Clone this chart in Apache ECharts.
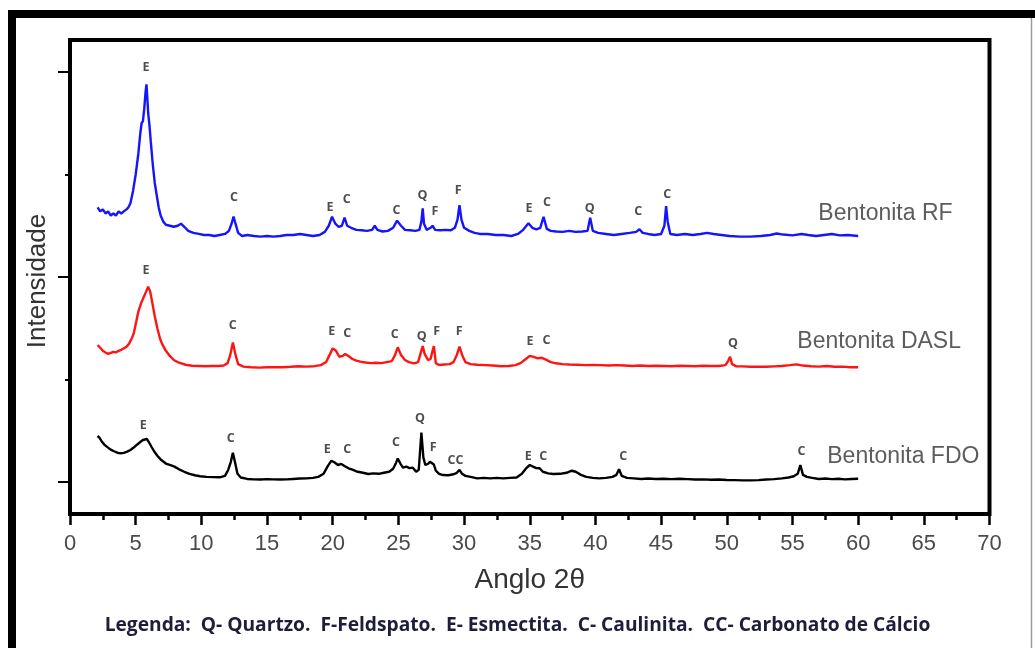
<!DOCTYPE html>
<html><head><meta charset="utf-8">
<script src="https://cdn.jsdelivr.net/npm/echarts@6/dist/echarts.min.js"></script>
<style>html,body{margin:0;padding:0;background:#fff}#c{width:1035px;height:648px}</style>
</head><body><div id="c"></div>
<script>
// X tick labels (2θ) and y tick positions (arbitrary intensity units)
const xTicks = [0, 70, 5];
const yMajorTicks = [0, 1, 2];
const yMinorTicks = [0.5, 1.5];

// Bentonita RF (blue) — [2θ, intensity]
const rfData = [
[2.1,1.34],[2.3,1.32],[2.5,1.33],[2.7,1.31],[2.9,1.32],[3.1,1.30],[3.3,1.31],[3.5,1.30],[3.7,1.32],[3.9,1.31],
[4.1,1.32],[4.3,1.33],[4.45,1.34],[4.6,1.36],[4.8,1.42],[5.0,1.50],[5.2,1.60],[5.35,1.70],[5.45,1.75],[5.55,1.76],
[5.65,1.82],[5.75,1.90],[5.82,1.94],[5.88,1.88],[5.95,1.80],[6.05,1.74],[6.15,1.66],[6.3,1.55],[6.45,1.46],[6.6,1.40],
[6.75,1.34],[6.9,1.30],[7.1,1.27],[7.3,1.255],[7.6,1.25],[7.9,1.245],[8.2,1.25],[8.45,1.26],[8.7,1.245],[9.0,1.225],
[9.4,1.215],[9.8,1.21],[10.2,1.205],[10.6,1.205],[11.0,1.20],[11.4,1.205],[11.8,1.21],[12.1,1.225],[12.3,1.26],[12.45,1.295],
[12.6,1.26],[12.8,1.215],[13.1,1.20],[13.5,1.205],[14.0,1.20],[14.5,1.197],[15.0,1.20],[15.5,1.197],[16.0,1.20],[16.5,1.205],
[17.0,1.205],[17.5,1.21],[18.0,1.205],[18.5,1.20],[19.0,1.205],[19.4,1.22],[19.7,1.25],[19.95,1.294],[20.2,1.26],[20.45,1.245],
[20.7,1.25],[20.9,1.29],[21.1,1.25],[21.4,1.24],[21.8,1.23],[22.2,1.228],[22.6,1.225],[23.0,1.23],[23.2,1.25],[23.4,1.23],
[23.8,1.222],[24.2,1.225],[24.6,1.24],[24.9,1.275],[25.2,1.25],[25.5,1.23],[25.9,1.228],[26.3,1.225],[26.6,1.23],[26.75,1.27],
[26.85,1.335],[26.95,1.26],[27.15,1.23],[27.45,1.24],[27.6,1.25],[27.8,1.23],[28.2,1.228],[28.6,1.23],[29.0,1.228],[29.3,1.24],
[29.5,1.28],[29.65,1.35],[29.8,1.28],[30.0,1.24],[30.4,1.225],[30.8,1.215],[31.2,1.21],[31.8,1.21],[32.4,1.205],[33.0,1.205],
[33.6,1.20],[34.1,1.21],[34.5,1.23],[34.9,1.262],[35.2,1.24],[35.5,1.232],[35.8,1.24],[36.05,1.294],[36.3,1.235],[36.6,1.225],
[37.0,1.222],[37.5,1.22],[38.0,1.225],[38.5,1.22],[39.0,1.222],[39.4,1.225],[39.6,1.289],[39.8,1.225],[40.2,1.215],[40.8,1.21],
[41.4,1.205],[42.0,1.21],[42.6,1.215],[43.1,1.22],[43.35,1.233],[43.6,1.215],[44.0,1.21],[44.5,1.205],[45.0,1.21],[45.25,1.25],
[45.38,1.346],[45.5,1.27],[45.7,1.21],[46.2,1.205],[46.8,1.21],[47.4,1.205],[48.0,1.21],[48.5,1.215],[49.0,1.21],[49.6,1.205],
[50.2,1.20],[51.0,1.197],[51.8,1.197],[52.6,1.20],[53.3,1.205],[53.8,1.212],[54.3,1.207],[55.0,1.203],[55.7,1.21],[56.2,1.205],
[56.8,1.20],[57.4,1.205],[58.0,1.21],[58.6,1.203],[59.2,1.205],[60.0,1.20]
];

// Bentonita DASL (red)
const daslData = [
[2.1,0.668],[2.3,0.655],[2.5,0.64],[2.7,0.632],[2.9,0.625],[3.1,0.63],[3.3,0.635],[3.5,0.632],[3.7,0.64],[3.9,0.645],
[4.1,0.652],[4.3,0.66],[4.5,0.675],[4.7,0.70],[4.85,0.725],[5.0,0.77],[5.2,0.83],[5.4,0.87],[5.6,0.90],[5.8,0.93],
[5.95,0.953],[6.1,0.93],[6.25,0.88],[6.45,0.81],[6.65,0.75],[6.85,0.70],[7.0,0.675],[7.3,0.64],[7.6,0.615],[7.9,0.595],
[8.3,0.582],[8.8,0.572],[9.3,0.567],[9.8,0.566],[10.3,0.565],[10.8,0.566],[11.3,0.566],[11.7,0.568],[12.0,0.58],[12.2,0.62],
[12.4,0.68],[12.6,0.62],[12.8,0.575],[13.2,0.563],[13.8,0.56],[14.4,0.558],[15.0,0.56],[15.6,0.56],[16.2,0.56],[16.8,0.562],
[17.4,0.565],[18.0,0.563],[18.6,0.565],[19.1,0.57],[19.5,0.585],[19.8,0.625],[20.0,0.652],[20.25,0.64],[20.5,0.611],[20.75,0.615],
[20.95,0.624],[21.2,0.615],[21.5,0.60],[21.8,0.592],[22.1,0.587],[22.5,0.583],[22.9,0.58],[23.3,0.582],[23.7,0.58],[24.1,0.585],
[24.5,0.59],[24.75,0.62],[24.95,0.657],[25.2,0.62],[25.5,0.595],[25.8,0.585],[26.2,0.579],[26.5,0.585],[26.7,0.63],[26.85,0.663],
[27.0,0.625],[27.25,0.595],[27.45,0.60],[27.6,0.64],[27.7,0.663],[27.85,0.58],[28.1,0.571],[28.5,0.573],[28.9,0.575],[29.2,0.585],
[29.45,0.62],[29.65,0.66],[29.85,0.62],[30.1,0.585],[30.5,0.575],[31.0,0.572],[31.6,0.57],[32.2,0.568],[32.8,0.565],[33.4,0.566],
[33.9,0.57],[34.3,0.58],[34.7,0.60],[35.0,0.615],[35.3,0.61],[35.6,0.603],[35.9,0.606],[36.2,0.598],[36.6,0.585],[37.0,0.579],
[37.5,0.575],[38.0,0.573],[38.6,0.572],[39.2,0.57],[39.8,0.571],[40.4,0.57],[41.0,0.568],[41.6,0.57],[42.2,0.568],[42.8,0.566],
[43.4,0.568],[44.0,0.566],[44.6,0.567],[45.2,0.566],[45.8,0.565],[46.4,0.567],[47.0,0.566],[47.6,0.565],[48.2,0.567],[48.8,0.566],
[49.4,0.566],[49.9,0.57],[50.1,0.59],[50.25,0.611],[50.4,0.575],[50.7,0.565],[51.2,0.564],[51.8,0.562],[52.4,0.563],[53.0,0.562],
[53.6,0.564],[54.2,0.566],[54.8,0.57],[55.3,0.574],[55.8,0.568],[56.4,0.565],[57.0,0.563],[57.6,0.566],[58.2,0.562],[58.8,0.563],
[59.4,0.56],[60.0,0.56]
];

// Bentonita FDO (black)
const fdoData = [
[2.1,0.225],[2.25,0.215],[2.45,0.195],[2.65,0.18],[2.85,0.17],[3.1,0.158],[3.35,0.15],[3.6,0.143],[3.85,0.14],[4.1,0.142],
[4.35,0.148],[4.6,0.156],[4.85,0.168],[5.1,0.182],[5.35,0.195],[5.55,0.205],[5.7,0.213],[5.85,0.21],[6.0,0.195],[6.2,0.172],
[6.4,0.15],[6.65,0.128],[6.95,0.107],[7.3,0.09],[7.65,0.082],[7.95,0.075],[8.3,0.062],[8.7,0.05],[9.1,0.04],[9.5,0.033],
[9.9,0.028],[10.4,0.025],[10.9,0.024],[11.4,0.023],[11.8,0.03],[12.05,0.06],[12.25,0.1],[12.4,0.143],[12.55,0.1],[12.75,0.04],
[13.0,0.022],[13.5,0.015],[14.0,0.013],[14.5,0.012],[15.0,0.014],[15.5,0.013],[16.0,0.012],[16.5,0.013],[17.0,0.015],[17.5,0.017],
[18.0,0.018],[18.5,0.02],[18.9,0.025],[19.3,0.04],[19.6,0.075],[19.9,0.104],[20.15,0.095],[20.4,0.083],[20.65,0.088],[20.9,0.078],
[21.2,0.067],[21.5,0.06],[21.9,0.05],[22.3,0.045],[22.7,0.039],[23.1,0.042],[23.5,0.04],[23.9,0.045],[24.3,0.05],[24.6,0.065],
[24.8,0.09],[24.95,0.115],[25.15,0.09],[25.35,0.07],[25.6,0.075],[25.85,0.068],[26.1,0.07],[26.35,0.05],[26.55,0.06],[26.65,0.15],
[26.75,0.241],[26.9,0.12],[27.05,0.083],[27.25,0.088],[27.4,0.099],[27.55,0.095],[27.7,0.085],[27.85,0.055],[28.1,0.04],[28.4,0.034],
[28.8,0.033],[29.2,0.038],[29.45,0.045],[29.65,0.059],[29.85,0.04],[30.1,0.03],[30.5,0.025],[31.0,0.018],[31.5,0.02],[32.0,0.018],
[32.5,0.02],[33.0,0.018],[33.5,0.02],[34.0,0.022],[34.4,0.04],[34.7,0.065],[35.0,0.083],[35.25,0.075],[35.5,0.068],[35.75,0.067],
[36.0,0.05],[36.4,0.042],[36.8,0.039],[37.3,0.04],[37.8,0.045],[38.2,0.055],[38.5,0.05],[38.9,0.035],[39.3,0.025],[39.8,0.02],
[40.3,0.018],[40.8,0.02],[41.3,0.025],[41.6,0.035],[41.8,0.062],[42.0,0.03],[42.4,0.02],[42.9,0.018],[43.5,0.015],[44.0,0.017],
[44.6,0.015],[45.2,0.016],[45.8,0.014],[46.4,0.016],[47.0,0.014],[47.6,0.012],[48.2,0.013],[48.8,0.011],[49.4,0.012],[50.0,0.01],
[50.6,0.009],[51.2,0.008],[51.8,0.008],[52.4,0.009],[53.0,0.012],[53.6,0.014],[54.2,0.018],[54.7,0.022],[55.1,0.028],[55.4,0.04],
[55.6,0.083],[55.8,0.035],[56.1,0.025],[56.5,0.02],[57.0,0.015],[57.5,0.017],[58.0,0.014],[58.5,0.016],[59.0,0.013],[59.5,0.015],
[60.0,0.016]
];

// Peak identification letters [2θ, intensity, letter]
const rfPeaks = [[5.78,2.024,'E'],[12.48,1.388,'C'],[19.79,1.341,'E'],[21.06,1.376,'C'],[24.86,1.327,'C'],[26.84,1.40,'Q'],
[27.78,1.319,'F'],[29.55,1.421,'F'],[34.95,1.335,'E'],[36.32,1.362,'C'],[39.57,1.335,'Q'],[43.25,1.319,'C'],[45.46,1.405,'C']];
const daslPeaks = [[5.78,1.031,'E'],[12.38,0.766,'C'],[19.92,0.733,'E'],[21.10,0.725,'C'],[24.73,0.722,'C'],[26.77,0.712,'Q'],
[27.91,0.733,'F'],[29.63,0.733,'F'],[35.01,0.684,'E'],[36.28,0.693,'C'],[50.48,0.677,'Q']];
const fdoPeaks = [[5.58,0.278,'E'],[12.23,0.213,'C'],[19.58,0.16,'E'],[21.10,0.161,'C'],[24.81,0.194,'C'],[26.64,0.311,'Q'],
[27.65,0.169,'F'],[29.35,0.107,'CC'],[34.88,0.123,'E'],[36.02,0.123,'C'],[42.11,0.123,'C'],[55.68,0.148,'C']];

// Sample names placed beside the patterns
const sampleNames = [[56.93,1.307,'Bentonita RF'],[55.33,0.683,'Bentonita DASL'],[57.61,0.122,'Bentonita FDO']];

const legendText = 'Legenda:  Q- Quartzo.  F-Feldspato.  E- Esmectita.  C- Caulinita.  CC- Carbonato de Cálcio';

const chart = echarts.init(document.getElementById('c'), null, {renderer:'canvas'});
const sans = '"Liberation Sans", Arial, sans-serif';
function peakSeries(data){
  return {type:'scatter', data:data, symbolSize:1, itemStyle:{color:'rgba(0,0,0,0)'}, silent:true, z:5,
    label:{show:true, position:'inside', formatter:p=>p.data[2], fontFamily:'"Open Sans", sans-serif', fontWeight:'bold', fontSize:12.5, color:'#222'}};
}
function line(data,color){
  return {type:'line', data:data, showSymbol:false, symbol:'none', lineStyle:{color:color,width:2.4}, silent:true, z:3, animation:false};
}
chart.setOption({
  animation:false,
  grid:{left:70, right:45.5, top:40, bottom:134, show:true, borderWidth:4, borderColor:'#000', backgroundColor:'#fff'},
  xAxis:{type:'value', min:xTicks[0], max:xTicks[1], interval:xTicks[2],
    name:'Anglo 2θ', nameLocation:'middle', nameGap:52, nameTextStyle:{fontFamily:sans, fontSize:28, color:'#333'},
    axisLine:{show:false, onZero:false}, splitLine:{show:false},
    axisTick:{show:true, length:11, lineStyle:{color:'#000', width:2.5}},
    minorTick:{show:true, splitNumber:2, length:6, lineStyle:{color:'#000', width:2.5}},
    axisLabel:{fontFamily:sans, fontSize:22, color:'#4a4a4a', margin:19}},
  yAxis:[
    {type:'value', min:-0.156, max:2.156, position:'left',
     name:'Intensidade', nameLocation:'middle', nameGap:19, nameRotate:90,
     nameTextStyle:{fontFamily:sans, fontSize:26, color:'#333', padding:[0,8,0,0]},
     axisLine:{show:false, onZero:false}, splitLine:{show:false},
     axisTick:{show:true, customValues:yMajorTicks, length:12, lineStyle:{color:'#000', width:2}},
     axisLabel:{show:false}},
    {type:'value', min:-0.156, max:2.156, position:'left',
     axisLine:{show:false, onZero:false}, splitLine:{show:false},
     axisTick:{show:true, customValues:yMinorTicks, length:5, lineStyle:{color:'#000', width:2}},
     axisLabel:{show:false}}
  ],
  series:[
    line(rfData,'#1414ff'),
    line(daslData,'#ff1414'),
    line(fdoData,'#000000'),
    peakSeries(rfPeaks), peakSeries(daslPeaks), peakSeries(fdoPeaks),
    {type:'scatter', data:sampleNames, symbolSize:1, itemStyle:{color:'rgba(0,0,0,0)'}, silent:true, z:5,
     label:{show:true, position:'right', distance:0, formatter:p=>p.data[2], fontFamily:sans, fontSize:23, color:'#333'}}
  ],
  graphic:[
    {type:'rect', shape:{x:8, y:10, width:1027, height:8}, style:{fill:'#000'}},
    {type:'rect', shape:{x:8, y:10, width:8, height:638}, style:{fill:'#000'}},
    {type:'line', shape:{x1:1031.5, y1:18, x2:1031.5, y2:648}, style:{stroke:'#9a9a9a', lineWidth:1.5}},
    {type:'text', left:'center', top:616, style:{text:legendText, fontFamily:'"Open Sans", sans-serif', fontWeight:'bold', fontSize:19.2, fill:'#1e1e3a'}}
  ]
});
</script></body></html>
